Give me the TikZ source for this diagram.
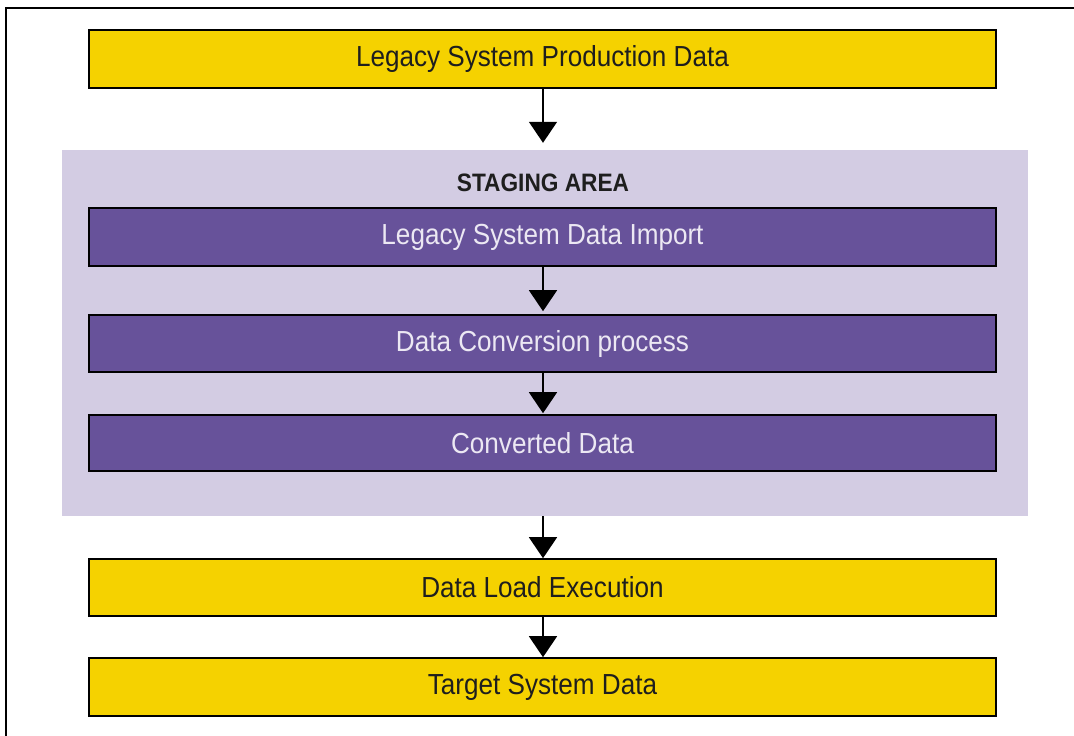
\documentclass[tikz,border=0pt]{standalone}
\usepackage{fontspec}
\setmainfont{Liberation Sans}[FakeStretch=0.9]
\usetikzlibrary{arrows.meta}
\definecolor{boxyellow}{HTML}{F5D200}
\definecolor{boxpurple}{HTML}{67529A}
\definecolor{stagebg}{HTML}{D3CCE3}
\definecolor{lighttext}{HTML}{ECE8F3}
\definecolor{darktext}{HTML}{1E1E1E}
\tikzset{
  ybox/.style={draw=black, line width=1.6pt, fill=boxyellow, minimum width=907pt, inner sep=0pt, text=darktext, font=\fontsize{29}{32}\selectfont},
  pbox/.style={draw=black, line width=1.6pt, fill=boxpurple, minimum width=907pt, inner sep=0pt, text=lighttext, font=\fontsize{29}{32}\selectfont},
  stagebox/.style={fill=stagebg, draw=none, minimum width=966pt, minimum height=366pt, inner sep=0pt},
  flow/.style={draw=black, line width=1.6pt, -{Triangle[width=28pt,length=21pt]}},
}
\begin{document}
\begin{tikzpicture}[x=1pt,y=-1pt]
\useasboundingbox (0,0) rectangle (1074,736);
\fill[white] (0,0) rectangle (1074,736);
\draw[line width=2pt, black] (6,736) -- (6,8) -- (1074,8);
\node[stagebox] (staging) at (545,333) {};
\node[ybox, minimum height=58pt] (src) at (542.5,59) {Legacy System Production Data};
\node[font=\bfseries\fontsize{25.2}{30}\selectfont, text=darktext, inner sep=0pt] (title) at (543,183) {STAGING AREA};
\node[pbox, minimum height=58pt] (imp) at (542.5,237) {Legacy System Data Import};
\node[pbox, minimum height=57pt] (conv) at (542.5,343.5) {Data Conversion process};
\node[pbox, minimum height=56pt] (cdata) at (542.5,443) {Converted Data};
\node[ybox, minimum height=57pt] (load) at (542.5,587.5) {Data Load Execution};
\node[ybox, minimum height=58pt] (target) at (542.5,687) {Target System Data};
\draw[flow, shorten >=7pt] (src.south -| 543,0) -- (staging.north -| 543,0);
\draw[flow, shorten >=3pt] (imp.south -| 543,0) -- (conv.north -| 543,0);
\draw[flow, shorten >=1pt] (conv.south -| 543,0) -- (cdata.north -| 543,0);
\draw[flow] (staging.south -| 543,0) -- (load.north -| 543,0);
\draw[flow] (load.south -| 543,0) -- (target.north -| 543,0);
\end{tikzpicture}
\end{document}
